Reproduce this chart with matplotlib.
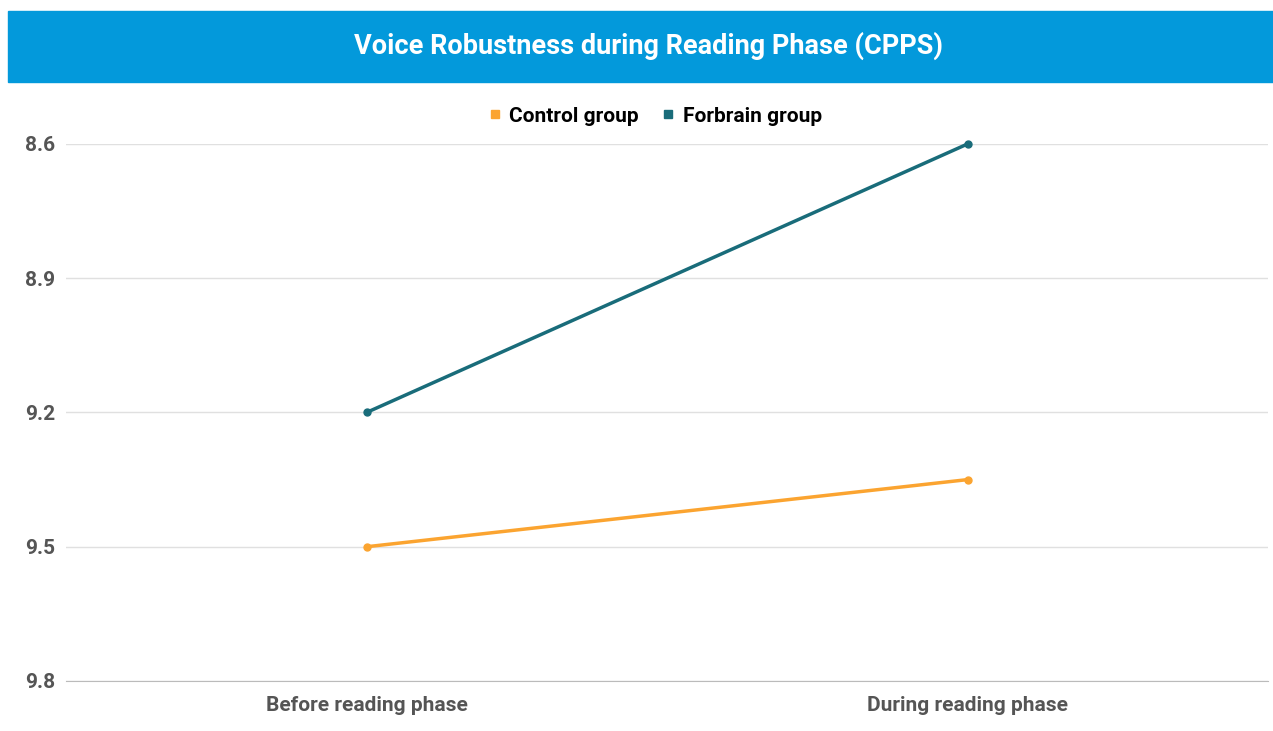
import matplotlib.pyplot as plt
from matplotlib.patches import Rectangle
from matplotlib.lines import Line2D

phases = ['Before reading phase', 'During reading phase']
control = [9.5, 9.35]
forbrain = [9.2, 8.6]
yticks = [8.6, 8.9, 9.2, 9.5, 9.8]

orange = '#FBA430'
teal = '#196C7A'
grey = '#555555'

plt.rcParams['font.family'] = ['Roboto', 'DejaVu Sans']

fig = plt.figure(figsize=(12.73, 7.31), dpi=100)
W, H = 1273, 731

# title banner
fig.patches.append(Rectangle((8 / W, 1 - 82 / H), (W - 8) / W, 71 / H,
                             transform=fig.transFigure, color='#0399DB', zorder=0))
fig.text(649 / W, 1 - 46 / H, 'Voice Robustness during Reading Phase (CPPS)',
         color='white', fontsize=19.5, fontweight='bold', ha='center', va='center')

ax = fig.add_axes([66 / W, 1 - 681 / H, (1268 - 66) / W, (681 - 144) / H])
x = range(len(phases))
ax.plot(x, control, color=orange, lw=2.5, marker='o', ms=5, zorder=3, clip_on=False)
ax.plot(x, forbrain, color=teal, lw=2.5, marker='o', ms=5, zorder=3, clip_on=False)

ax.set_xlim(-0.5, 1.5)
ax.set_ylim(9.8, 8.6)
ax.set_yticks(yticks)
ax.set_yticklabels([f'{v:.1f}' for v in yticks])
ax.set_xticks(list(x))
ax.set_xticklabels(phases)
for s in ['top', 'right', 'left']:
    ax.spines[s].set_visible(False)
ax.spines['bottom'].set_color('#bbbbbb')
ax.grid(axis='y', color='#e0e0e0', lw=1)
ax.set_axisbelow(True)
ax.tick_params(length=0)
ax.tick_params(axis='y', pad=8, labelsize=15, labelcolor=grey)
ax.tick_params(axis='x', pad=11, labelsize=15, labelcolor=grey)
for t in ax.get_xticklabels() + ax.get_yticklabels():
    t.set_fontweight('bold')

handles = [Line2D([], [], color=orange, marker='s', ls='none', ms=6),
           Line2D([], [], color=teal, marker='s', ls='none', ms=6)]
fig.legend(handles, ['Control group', 'Forbrain group'], loc='center',
           bbox_to_anchor=(654 / W, 1 - 116 / H), ncol=2, frameon=False,
           handletextpad=0.3, columnspacing=1.0, handlelength=0.8,
           prop={'weight': 'bold', 'size': 15})

fig.savefig('out.png', dpi=100)
